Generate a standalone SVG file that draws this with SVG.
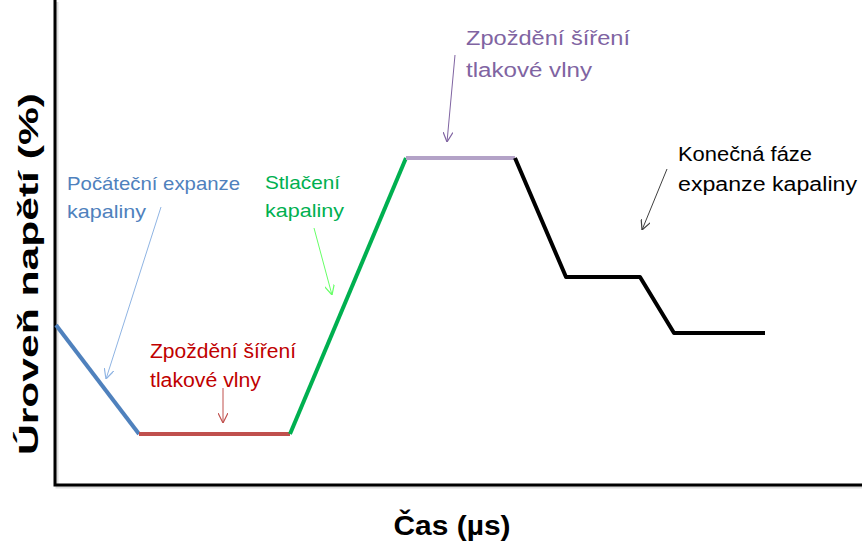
<svg xmlns="http://www.w3.org/2000/svg" width="862" height="544" viewBox="0 0 862 544">
<defs>
<style>
.lbl{font-family:"Liberation Sans",Arial,sans-serif;font-size:18.5px}
.ax{font-family:"Liberation Sans",Arial,sans-serif;font-size:28px;font-weight:bold;fill:#000}
.seg{fill:none;stroke-width:4;stroke-linecap:butt;stroke-linejoin:round}
.arr{fill:none;stroke-width:1}
</style>
<marker id="hb" viewBox="0 0 10 10" refX="10" refY="5" markerWidth="10" markerHeight="10" markerUnits="userSpaceOnUse" orient="auto"><path d="M0,0 L10,5 L0,10" fill="none" stroke="#8fb4e3" stroke-width="1.2"/></marker>
<marker id="hr" viewBox="0 0 10 10" refX="10" refY="5" markerWidth="10" markerHeight="10" markerUnits="userSpaceOnUse" orient="auto"><path d="M0,0 L10,5 L0,10" fill="none" stroke="#c0504d" stroke-width="1.2"/></marker>
<marker id="hg" viewBox="0 0 10 10" refX="10" refY="5" markerWidth="10" markerHeight="10" markerUnits="userSpaceOnUse" orient="auto"><path d="M0,0 L10,5 L0,10" fill="none" stroke="#66ff66" stroke-width="1.2"/></marker>
<marker id="hp" viewBox="0 0 10 10" refX="10" refY="5" markerWidth="10" markerHeight="10" markerUnits="userSpaceOnUse" orient="auto"><path d="M0,0 L10,5 L0,10" fill="none" stroke="#8064a2" stroke-width="1.2"/></marker>
<marker id="hk" viewBox="0 0 10 10" refX="10" refY="5" markerWidth="10" markerHeight="10" markerUnits="userSpaceOnUse" orient="auto"><path d="M0,0 L10,5 L0,10" fill="none" stroke="#404040" stroke-width="1.2"/></marker>
</defs>
<rect width="862" height="544" fill="#fff"/>
<g id="axes">
<path d="M57,2 V487 H862" fill="none" stroke="#bbb" stroke-width="3" opacity="0.5"/>
<path d="M55,0 V485 H862" fill="none" stroke="#000" stroke-width="3"/>
<text class="ax" transform="translate(38,274) rotate(-90)" text-anchor="middle" textLength="362" lengthAdjust="spacingAndGlyphs">Úroveň napětí (%)</text>
<text class="ax" x="452" y="535" text-anchor="middle" textLength="117" lengthAdjust="spacingAndGlyphs">Čas (µs)</text>
</g>
<g id="curve">
<polyline class="seg" stroke="#4f81bd" points="56,325 139,434"/>
<polyline class="seg" stroke="#c0504d" points="139,434 290,434"/>
<polyline class="seg" stroke="#00b050" points="290,434 406,158"/>
<polyline class="seg" stroke="#b3a2c7" points="406,158 515,158"/>
<polyline class="seg" stroke="#000" points="515,158 566,277 640,277 674,333 765,333"/>
</g>
<g id="label-blue">
<text class="lbl" fill="#4f81bd" x="67" y="190" textLength="173" lengthAdjust="spacingAndGlyphs">Počáteční expanze</text>
<text class="lbl" fill="#4f81bd" x="67" y="218" textLength="79" lengthAdjust="spacingAndGlyphs">kapaliny</text>
</g>
<g id="label-red">
<text class="lbl" fill="#c00000" style="font-size:20px" x="150" y="358" textLength="146" lengthAdjust="spacingAndGlyphs">Zpoždění šíření</text>
<text class="lbl" fill="#c00000" style="font-size:20px" x="150" y="387" textLength="111" lengthAdjust="spacingAndGlyphs">tlakové vlny</text>
</g>
<g id="label-green">
<text class="lbl" fill="#00b050" x="265" y="189" textLength="75" lengthAdjust="spacingAndGlyphs">Stlačení</text>
<text class="lbl" fill="#00b050" x="265" y="217" textLength="79" lengthAdjust="spacingAndGlyphs">kapaliny</text>
</g>
<g id="label-purple">
<text class="lbl" fill="#8064a2" style="font-size:20px" x="466" y="45" textLength="164" lengthAdjust="spacingAndGlyphs">Zpoždění šíření</text>
<text class="lbl" fill="#8064a2" style="font-size:20px" x="466" y="77" textLength="126" lengthAdjust="spacingAndGlyphs">tlakové vlny</text>
</g>
<g id="label-black">
<text class="lbl" fill="#000" style="font-size:19.5px" x="678" y="161" textLength="134" lengthAdjust="spacingAndGlyphs">Konečná fáze</text>
<text class="lbl" fill="#000" style="font-size:19.5px" x="678" y="191" textLength="179" lengthAdjust="spacingAndGlyphs">expanze kapaliny</text>
</g>
<g id="connectors">
<line class="arr" stroke="#8fb4e3" x1="161" y1="207" x2="106" y2="379" marker-end="url(#hb)"/>
<line class="arr" stroke="#c0504d" x1="223" y1="388" x2="223" y2="423" marker-end="url(#hr)"/>
<line class="arr" stroke="#66ff66" x1="314" y1="228" x2="332" y2="295" marker-end="url(#hg)"/>
<line class="arr" stroke="#8064a2" x1="455" y1="55" x2="447" y2="142" marker-end="url(#hp)"/>
<line class="arr" stroke="#404040" x1="667" y1="169" x2="642" y2="230" marker-end="url(#hk)"/>
</g>
</svg>
